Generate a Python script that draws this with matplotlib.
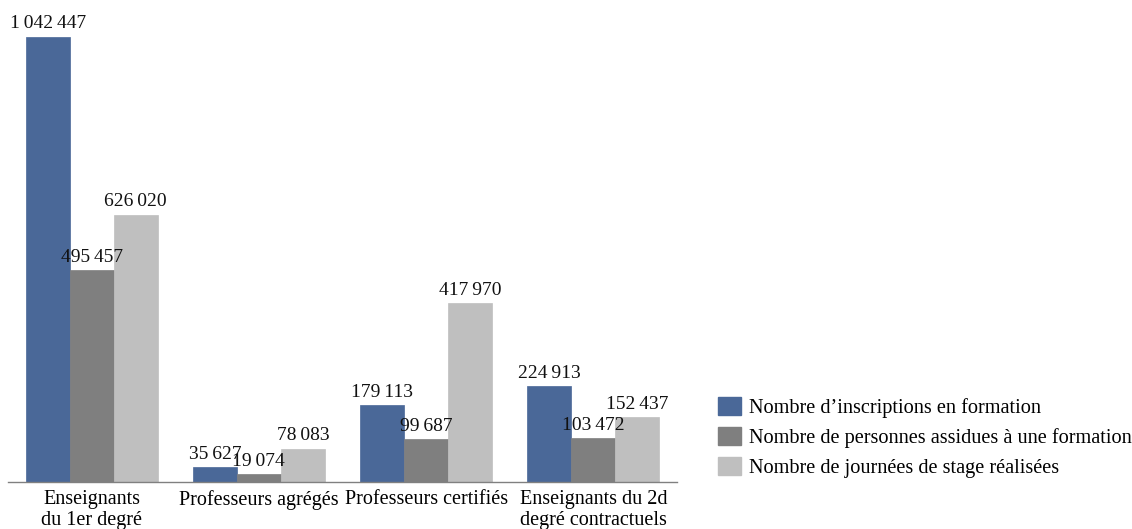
import matplotlib
matplotlib.use("Agg")
import matplotlib.pyplot as plt
import numpy as np
from matplotlib.patches import Patch

categories = ["Enseignants\ndu 1er degré", "Professeurs agrégés", "Professeurs certifiés", "Enseignants du 2d\ndegré contractuels"]
series_names = ["Nombre d\u2019inscriptions en formation",
                "Nombre de personnes assidues à une formation",
                "Nombre de journées de stage réalisées"]
inscriptions = [1042447, 35627, 179113, 224913]
assidus = [495457, 19074, 99687, 103472]
journees = [626020, 78083, 417970, 152437]
colors = ["#4A6898", "#7F7F7F", "#BFBFBF"]

plt.rcParams['font.family'] = ['Liberation Serif', 'DejaVu Serif']

W, H = 1132, 529
fig = plt.figure(figsize=(W/100, H/100), dpi=100)
ax = fig.add_axes([8/W, 47/H, 669/W, 470/H])

x = np.arange(len(categories))
bw = 0.263
for i, (vals, c) in enumerate(zip([inscriptions, assidus, journees], colors)):
    pos = x + (i - 1) * bw
    ax.bar(pos, vals, width=bw, color=c, edgecolor=c, linewidth=0.5)
    for p, v in zip(pos, vals):
        s = f"{v:,}".replace(",", "\u2009")
        ax.annotate(s, (p, v), xytext=(0, 3), textcoords="offset points",
                    ha="center", va="bottom", fontsize=14, color="#111111")

ax.set_xlim(-0.5, 3.5)
ax.set_ylim(0, 1100000)
ax.set_xticks(x)
ax.set_xticklabels(categories, fontsize=14.5, linespacing=1.12)
ax.tick_params(axis='x', length=0, pad=6)
ax.set_yticks([])
for s in ["top", "right", "left"]:
    ax.spines[s].set_visible(False)
ax.spines["bottom"].set_color("#808080")
ax.spines["bottom"].set_linewidth(1.0)

handles = [Patch(facecolor=c, edgecolor=c) for c in colors]
fig.legend(handles, series_names, loc="upper left", bbox_to_anchor=(714/W, 1 - 393/H),
           frameon=False, fontsize=14.6, handlelength=1.13, handleheight=1.0,
           handletextpad=0.4, labelspacing=0.45, borderaxespad=0, borderpad=0.2)

fig.savefig("out.png", dpi=100)
